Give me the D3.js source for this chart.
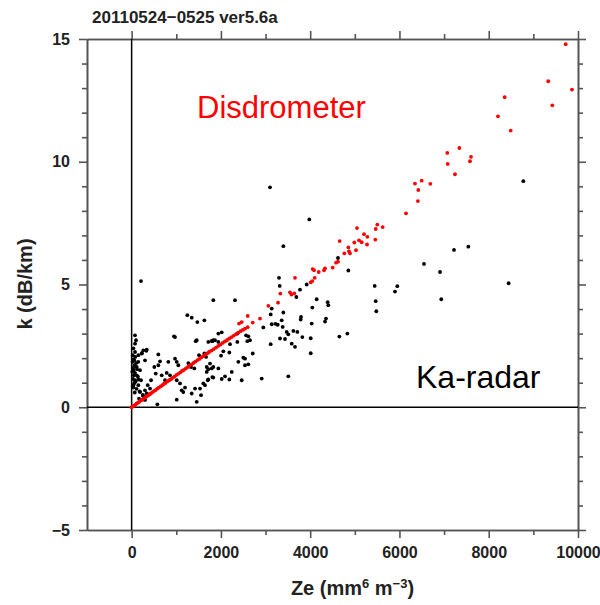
<!DOCTYPE html>
<html>
<head>
<meta charset="utf-8">
<script src="https://cdn.jsdelivr.net/npm/d3@7"></script>
<style>
  body { margin: 0; background: #fff; }
  svg { font-family: "Liberation Sans", Arial, sans-serif; }
</style>
</head>
<body>
<div class="plot"></div>
<script>
// DATA -- [Ze, k]
var title = "20110524\u22120525 ver5.6a";
var xTicks = [0, 2000, 4000, 6000, 8000, 10000];
var xMinor = [1000, 3000, 5000, 7000, 9000];
var yTicks = [-5, 0, 5, 10, 15];
var yMinor = [-4, -3, -2, -1, 1, 2, 3, 4, 6, 7, 8, 9, 11, 12, 13, 14];

// Ka-radar points (black)
var radar = [
  [210, 5.14], [3100, 8.96], [1830, 4.36], [949, 2.89], [1458, 2.73], [1718, 2.66], [1830, 2.73], [1943, 2.66],
  [76, 2.93], [98, 2.73], [76, 2.59], [40, 2.4], [25, 2.12], [80, 2.05], [45, 1.95], [20, 1.85], [100, 1.8],
  [60, 1.7], [35, 1.6], [120, 1.55], [15, 1.45], [75, 1.4], [50, 1.3], [140, 1.25], [30, 1.15], [90, 1.05],
  [60, 0.98], [40, 0.8], [110, 0.75], [180, 0.65], [70, 0.6], [250, 0.5], [300, 0.3], [230, 2.2], [330, 2.3],
  [300, 1.91], [150, 1.85], [114, 1.64], [188, 1.51], [38, 1.51], [114, 1.30], [150, 1.13], [210, 1.10],
  [1248, 3.75], [1346, 3.65], [1472, 3.47], [1629, 3.54], [972, 2.86], [1436, 2.69], [1808, 2.69],
  [262, 2.32], [338, 2.35], [226, 2.19], [76, 2.25], [150, 2.12], [60, 1.91],
  [598, 2.15], [636, 1.87], [598, 1.71], [822, 1.85], [972, 1.98], [1010, 1.85], [1046, 1.71],
  [1270, 1.80], [1330, 1.64], [1404, 1.58], [1510, 2.12], [1629, 2.19], [1667, 2.05], [1756, 1.78], [1794, 1.58],
  [508, 1.64], [540, 1.37], [674, 1.30], [786, 1.40], [860, 1.30], [748, 1.10],
  [435, 1.10], [360, 0.90], [412, 0.76], [300, 0.69], [188, 0.62], [338, 0.56], [262, 0.45], [166, 0.35],
  [1010, 1.10], [1084, 0.97], [1196, 0.80], [1158, 0.62], [1010, 0.31], [1122, 0.69], [576, 0.12], [1458, 0.22],
  [1346, 0.56], [1420, 0.76], [1532, 0.76], [1606, 0.97], [1705, 1.10], [1682, 1.44], [1808, 1.23], [1555, 0.49],
  [76, 1.10], [38, 0.90], [150, 0.90],
  [3302, 5.27], [3317, 4.94], [2316, 4.36], [3690, 4.49], [3138, 4.02], [3115, 3.78], [3138, 3.38], [3220, 3.40],
  [3272, 3.36], [2950, 3.25], [2614, 2.89], [2563, 2.93], [2652, 2.73], [2592, 2.69], [2018, 3.05], [1943, 3.0],
  [2368, 3.0], [1868, 2.73], [1794, 2.70], [2368, 2.66], [2204, 2.57], [2189, 2.23], [2054, 2.28], [2003, 2.10],
  [2713, 2.19], [2502, 2.02], [2540, 1.98], [2390, 1.85], [2614, 1.75], [2540, 1.71], [3115, 2.57], [1830, 1.64],
  [1943, 1.58], [1682, 1.64], [1718, 1.55], [2242, 1.44], [2092, 1.26], [2018, 1.15], [2189, 1.13], [1830, 1.21],
  [1718, 1.13], [1644, 0.90], [2466, 1.10], [2914, 1.17],
  [8775, 9.21], [3981, 7.65], [3399, 6.56], [7222, 6.41], [7543, 6.54], [6550, 5.84], [6909, 5.51], [4623, 6.08],
  [4855, 5.57], [8446, 5.05], [3922, 5.0], [3772, 4.79], [5445, 4.94], [5952, 4.93], [5900, 4.71], [6937, 4.40],
  [5468, 4.32], [5482, 3.91], [4146, 4.40], [4048, 4.06], [4392, 4.28], [4406, 4.15], [3399, 3.86], [3794, 3.68],
  [3787, 3.57], [4354, 3.61], [4332, 3.49], [4034, 3.41], [3362, 3.54], [3384, 3.27], [3474, 3.07], [3623, 3.11],
  [3712, 3.07], [3510, 2.97], [3436, 2.78], [3324, 2.80], [3824, 2.86], [4012, 2.81], [4653, 2.88], [4832, 3.00],
  [3586, 2.59], [3660, 2.46], [4012, 2.20], [3510, 1.26]
];

// Disdrometer points (red)
var disdro = [
  [0, 0], [30, 0.04], [55, 0.07], [80, 0.1], [110, 0.15], [140, 0.18], [170, 0.22], [200, 0.27], [235, 0.3],
  [265, 0.35], [300, 0.39], [330, 0.44], [365, 0.47], [400, 0.53], [430, 0.56], [470, 0.62], [500, 0.66],
  [540, 0.7], [575, 0.76], [610, 0.8], [650, 0.85], [690, 0.9], [720, 0.95], [760, 0.99], [800, 1.05],
  [840, 1.1], [880, 1.14], [920, 1.2], [960, 1.25], [1000, 1.31], [1045, 1.36], [1090, 1.42], [1130, 1.48],
  [1170, 1.52], [1215, 1.58], [1260, 1.64], [1300, 1.7], [1345, 1.75], [1390, 1.81], [1430, 1.86], [1475, 1.92],
  [1520, 1.97], [1560, 2.03], [1600, 2.08], [1650, 2.14], [1700, 2.2], [1740, 2.26], [1790, 2.31], [1840, 2.37],
  [1890, 2.43], [1940, 2.5], [1990, 2.55], [2040, 2.62], [2090, 2.68], [2140, 2.74], [2190, 2.8], [2240, 2.86],
  [2290, 2.92], [2340, 2.98], [2390, 3.04], [2440, 3.1], [2490, 3.15], [2540, 3.2], [2600, 3.26],
  [2406, 3.41], [2466, 3.47], [2713, 3.45], [2601, 3.72], [2876, 3.61], [3063, 4.13], [3280, 4.26], [3331, 4.63],
  [3548, 4.68], [3645, 4.64], [3579, 4.59], [3660, 5.27], [4048, 5.14], [4012, 5.09], [4101, 5.27],
  [4056, 5.63], [4086, 5.58], [4191, 5.51], [4332, 5.66], [4310, 5.58], [4504, 5.69], [4579, 5.89], [4623, 5.93],
  [4765, 6.27], [4892, 6.27], [4870, 6.35], [4855, 6.51], [5026, 6.40], [4989, 6.71], [4661, 6.77], [5094, 6.80],
  [5154, 6.72], [5273, 6.63], [5280, 6.94], [5206, 7.05], [5460, 6.83], [5049, 7.30], [5468, 7.26], [5504, 7.44],
  [5624, 7.34], [6147, 7.90], [6413, 8.40], [6422, 8.85], [6348, 9.11], [6498, 9.23], [6691, 9.10],
  [7244, 9.49], [7081, 9.91], [7072, 10.36], [7341, 10.56], [7580, 10.02], [7603, 10.20],
  [8207, 11.85], [8492, 11.27], [8357, 12.63], [9424, 12.30], [9334, 13.28], [9865, 12.94], [9724, 14.79]
];

var w = 600;
var h = 605;
var padLeft = 87, padRight = 578, padTop = 39, padBottom = 530;
var axisColor = "#555";
var labelColor = "#222";

var svg = d3.select(".plot").append("svg").attr("width", w).attr("height", h);

// SCALES
var xScale = d3.scaleLinear().domain([-1000, 10000]).range([padLeft, padRight]);
var yScale = d3.scaleLinear().domain([-5, 15]).range([padBottom, padTop]);

// AXES (major + minor on all four sides)
function styleAxis(g) {
  g.select(".domain").attr("stroke", axisColor).attr("stroke-width", 1.6);
  g.selectAll(".tick line").attr("stroke", axisColor).attr("stroke-width", 1.6);
  g.selectAll(".tick text")
    .attr("fill", labelColor)
    .attr("font-size", "16px")
    .attr("font-weight", "bold")
    .attr("font-family", "'Liberation Sans', Arial, sans-serif");
}

svg.append("g")
  .attr("transform", "translate(0," + padBottom + ")")
  .call(d3.axisBottom(xScale).tickValues(xTicks).tickSize(8).tickSizeOuter(0).tickPadding(9)
    .tickFormat(d3.format("d")))
  .call(styleAxis);
svg.append("g")
  .attr("transform", "translate(0," + padBottom + ")")
  .call(d3.axisBottom(xScale).tickValues(xMinor).tickSize(5).tickSizeOuter(0).tickFormat(""))
  .call(styleAxis);
svg.append("g")
  .attr("transform", "translate(0," + padTop + ")")
  .call(d3.axisTop(xScale).tickValues(xTicks).tickSize(8).tickSizeOuter(0).tickFormat(""))
  .call(styleAxis);
svg.append("g")
  .attr("transform", "translate(0," + padTop + ")")
  .call(d3.axisTop(xScale).tickValues(xMinor).tickSize(5).tickSizeOuter(0).tickFormat(""))
  .call(styleAxis);

svg.append("g")
  .attr("transform", "translate(" + padLeft + ",0)")
  .call(d3.axisLeft(yScale).tickValues(yTicks).tickSize(8).tickSizeOuter(0).tickPadding(9)
    .tickFormat(function (d) { return d < 0 ? "\u2212" + Math.abs(d) : d; }))
  .call(styleAxis);
svg.append("g")
  .attr("transform", "translate(" + padLeft + ",0)")
  .call(d3.axisLeft(yScale).tickValues(yMinor).tickSize(5).tickSizeOuter(0).tickFormat(""))
  .call(styleAxis);
svg.append("g")
  .attr("transform", "translate(" + padRight + ",0)")
  .call(d3.axisRight(yScale).tickValues(yTicks).tickSize(8).tickSizeOuter(0).tickFormat(""))
  .call(styleAxis);
svg.append("g")
  .attr("transform", "translate(" + padRight + ",0)")
  .call(d3.axisRight(yScale).tickValues(yMinor).tickSize(5).tickSizeOuter(0).tickFormat(""))
  .call(styleAxis);

// zero lines
svg.append("line")
  .attr("x1", xScale(0)).attr("x2", xScale(0))
  .attr("y1", yScale(15)).attr("y2", yScale(-5))
  .attr("stroke", "#000").attr("stroke-width", 1.5);
svg.append("line")
  .attr("x1", xScale(-1000)).attr("x2", xScale(10000))
  .attr("y1", yScale(0)).attr("y2", yScale(0))
  .attr("stroke", "#000").attr("stroke-width", 1.5);

// DOTS
svg.append("g").selectAll("circle")
  .data(radar)
  .enter()
  .append("circle")
  .attr("cx", function (d) { return xScale(d[0]); })
  .attr("cy", function (d) { return yScale(d[1]); })
  .attr("r", 1.9)
  .attr("fill", "#000");

svg.append("g").selectAll("circle")
  .data(disdro)
  .enter()
  .append("circle")
  .attr("cx", function (d) { return xScale(d[0]); })
  .attr("cy", function (d) { return yScale(d[1]); })
  .attr("r", 1.9)
  .attr("fill", "#ff0000");

// TEXT
svg.append("text")
  .attr("x", 92).attr("y", 23)
  .attr("font-size", "17px").attr("font-weight", "bold")
  .attr("fill", labelColor)
  .text(title);

svg.append("text")
  .attr("x", 197).attr("y", 118)
  .attr("font-size", "31px")
  .attr("fill", "#ff0000")
  .text("Disdrometer");

svg.append("text")
  .attr("x", 416).attr("y", 388)
  .attr("font-size", "32px")
  .attr("fill", "#000")
  .text("Ka-radar");

// x-axis label
var xl = svg.append("text")
  .attr("x", (padLeft + padRight) / 2 + 20).attr("y", 595)
  .attr("font-size", "20px").attr("font-weight", "bold")
  .attr("fill", labelColor)
  .style("text-anchor", "middle");
xl.append("tspan").text("Ze (mm");
xl.append("tspan").attr("dy", -7).attr("font-size", "13px").text("6");
xl.append("tspan").attr("dy", 7).text(" m");
xl.append("tspan").attr("dy", -7).attr("font-size", "13px").text("\u22123");
xl.append("tspan").attr("dy", 7).text(")");

// y-axis label
svg.append("text")
  .attr("transform", "translate(32," + 284 + ") rotate(-90)")
  .attr("font-size", "20px").attr("font-weight", "bold")
  .attr("fill", labelColor)
  .style("text-anchor", "middle")
  .text("k (dB/km)");
</script>
</body>
</html>
